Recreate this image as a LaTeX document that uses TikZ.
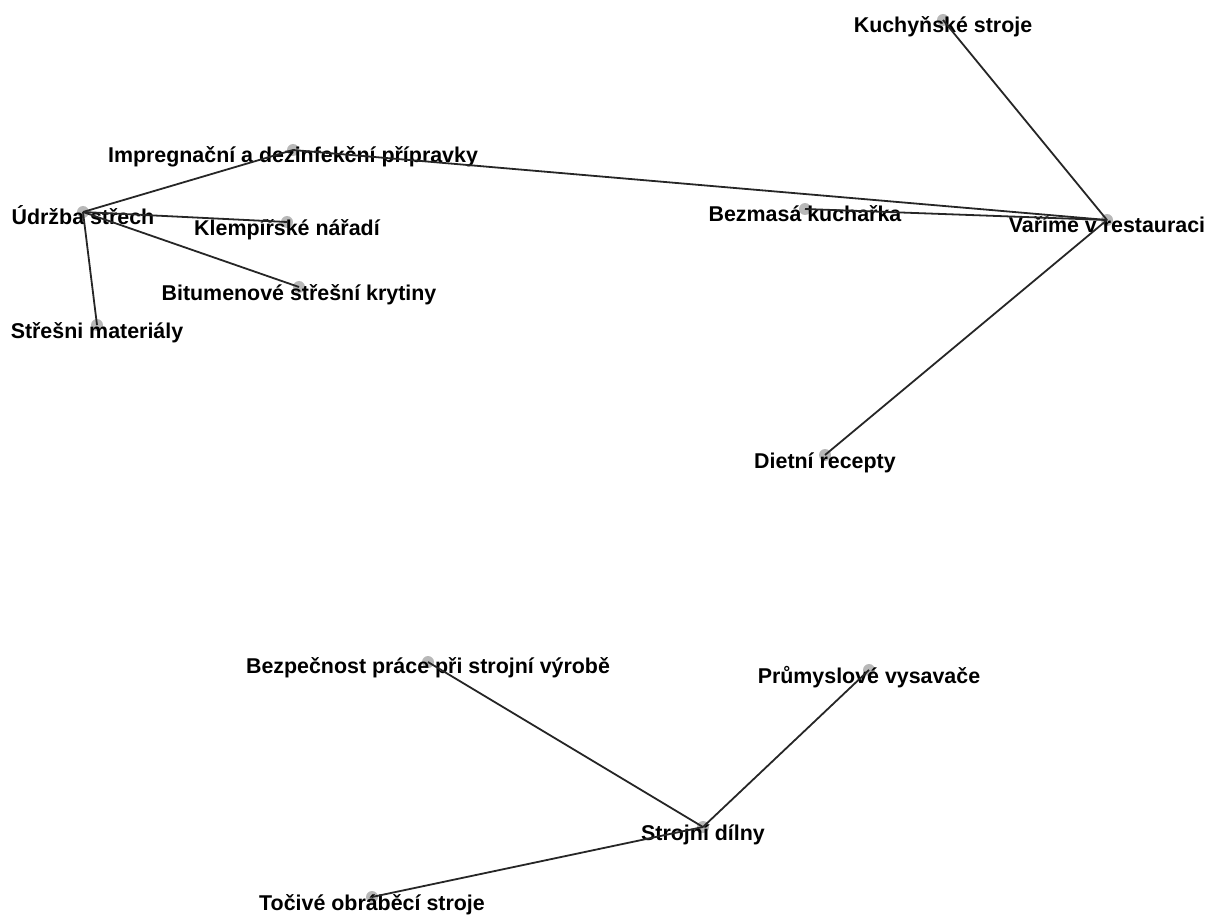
\documentclass[tikz,border=0pt]{standalone}
\usepackage{fontspec}
\setmainfont{Liberation Sans}
\begin{document}
\begin{tikzpicture}[x=0.5pt,y=-0.5pt,
  dot/.style={circle,fill=black!28,draw=none,inner sep=0pt,minimum size=6pt},
  lbl/.style={anchor=base,inner sep=0pt,font=\fontsize{10.7}{12}\selectfont\bfseries,text=black},
  edge/.style={draw=black!85,line width=0.9pt}]
\useasboundingbox (0,0) rectangle (1212,915);
% dots
\node[dot] (ks) at (943,20) {};
\node[dot] (vr) at (1107,220) {};
\node[dot] (bk) at (805,209) {};
\node[dot] (dr) at (825,455) {};
\node[dot] (us) at (83,212) {};
\node[dot] (ip) at (293,150) {};
\node[dot] (kn) at (287,222) {};
\node[dot] (bs) at (299,287) {};
\node[dot] (sm) at (97,325) {};
\node[dot] (bp) at (428,662) {};
\node[dot] (pv) at (869,670) {};
\node[dot] (sd) at (703,827) {};
\node[dot] (to) at (372,897) {};
% labels
\node[lbl] (ksl) at ([yshift=-6.5pt]ks.center) {Kuchyňské stroje};
\node[lbl] (vrl) at ([yshift=-6.5pt]vr.center) {Vaříme v restauraci};
\node[lbl] (bkl) at ([yshift=-6pt]bk.center) {Bezmasá kuchařka};
\node[lbl] (drl) at ([yshift=-6.5pt]dr.center) {Dietní recepty};
\node[lbl] (usl) at ([yshift=-6.5pt]us.center) {Údržba střech};
\node[lbl] (ipl) at ([yshift=-6.5pt]ip.center) {Impregnační a dezinfekční přípravky};
\node[lbl] (knl) at ([yshift=-6.5pt]kn.center) {Klempířské nářadí};
\node[lbl] (bsl) at ([yshift=-6.5pt]bs.center) {Bitumenové střešní krytiny};
\node[lbl] (sml) at ([yshift=-6.5pt]sm.center) {Střešni materiály};
\node[lbl] (bpl) at ([yshift=-5.5pt]bp.center) {Bezpečnost práce při strojní výrobě};
\node[lbl] (pvl) at ([yshift=-6.5pt]pv.center) {Průmyslové vysavače};
\node[lbl] (sdl) at ([yshift=-6.5pt]sd.center) {Strojní dílny};
\node[lbl] (tol) at ([yshift=-6.5pt]to.center) {Točivé obráběcí stroje};
% edges
\draw[edge] (ks.center) -- (vr.center);
\draw[edge] (bk.center) -- (vr.center);
\draw[edge] (ip.center) -- (vr.center);
\draw[edge] (dr.center) -- (vr.center);
\draw[edge] (us.center) -- (ip.center);
\draw[edge] (us.center) -- (kn.center);
\draw[edge] (us.center) -- (bs.center);
\draw[edge] (us.center) -- (sm.center);
\draw[edge] (sd.center) -- (bp.center);
\draw[edge] (sd.center) -- (pv.center);
\draw[edge] (sd.center) -- (to.center);
\end{tikzpicture}
\end{document}
